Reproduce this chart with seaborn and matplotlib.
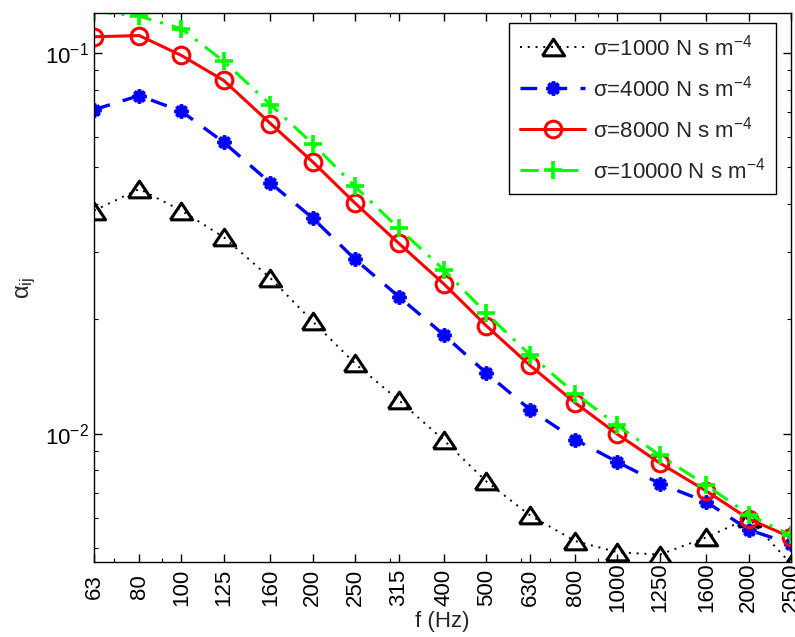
import numpy as np
import pandas as pd
import matplotlib
matplotlib.use("Agg")
import matplotlib.pyplot as plt
import matplotlib.ticker as mticker
import seaborn as sns

freqs = [63, 80, 100, 125, 160, 200, 250, 315, 400, 500, 630, 800, 1000, 1250, 1600, 2000, 2500]
tick_labels = [str(f) for f in freqs]

s1000 = [0.0385, 0.0439, 0.0385, 0.0328, 0.0256, 0.0197, 0.01528, 0.01224, 0.00960, 0.00749,
         0.00610, 0.00522, 0.00488, 0.00481, 0.00534, 0.00600, 0.00455]
s4000 = [0.0709, 0.0772, 0.0702, 0.0582, 0.0455, 0.0368, 0.0287, 0.0229, 0.01815, 0.01443,
         0.01156, 0.00964, 0.00842, 0.00739, 0.00661, 0.00559, 0.00513]
s8000 = [0.1102, 0.1110, 0.0984, 0.0846, 0.0652, 0.0517, 0.0403, 0.0316, 0.0247, 0.0192,
         0.0151, 0.01204, 0.00996, 0.00837, 0.00706, 0.00597, 0.00534]
s10000 = [0.1287, 0.1248, 0.1157, 0.0950, 0.0731, 0.0577, 0.0446, 0.0346, 0.0269, 0.0207,
          0.0161, 0.01274, 0.01051, 0.00877, 0.00731, 0.00613, 0.00540]

labels = [r"σ=1000 N s m$^{-4}$", r"σ=4000 N s m$^{-4}$",
          r"σ=8000 N s m$^{-4}$", r"σ=10000 N s m$^{-4}$"]

sns.set_style("ticks")
plt.rcParams["font.family"] = ["Liberation Sans", "DejaVu Sans"]
plt.rcParams["mathtext.fontset"] = "custom"
plt.rcParams["mathtext.rm"] = "Liberation Sans"
plt.rcParams["mathtext.it"] = "Liberation Sans:italic"
plt.rcParams["axes.unicode_minus"] = True

fig = plt.figure(figsize=(7.95, 6.37), dpi=100)
ax = fig.add_axes([94 / 795, 1 - 562 / 637, (791 - 94) / 795, (562 - 13.3) / 637])

tri = [(-1, -0.75), (1, -0.75), (0, 0.75), (-1, -0.75)]

styles = [
    dict(color="black", linestyle=(0, (1, 3)), linewidth=1.4, marker=tri, markersize=16,
         markerfacecolor="none", markeredgecolor="black", markeredgewidth=2.2),
    dict(color="#0000ff", linestyle=(0, (5, 4)), linewidth=2.4, marker=(8, 2, 0), markersize=10,
         markeredgecolor="#0000ff", markeredgewidth=2.6),
    dict(color="#ff0000", linestyle="-", linewidth=2.2, marker="o", markersize=12,
         markerfacecolor="none", markeredgecolor="#ff0000", markeredgewidth=2.2),
    dict(color="#00ff00", linestyle=(0, (6, 3, 1, 3)), linewidth=2.2, marker="+", markersize=13,
         markeredgecolor="#00ff00", markeredgewidth=2.6),
]

for vals, lab, st in zip([s1000, s4000, s8000, s10000], labels, styles):
    df = pd.DataFrame({"f": freqs, "a": vals})
    sns.lineplot(data=df, x="f", y="a", ax=ax, label=lab, estimator=None, sort=False, **st)

ax.set_xscale("log")
ax.set_yscale("log")
ax.set_xlim(63, 2500)
ax.set_ylim(0.0046, 0.127)

ax.xaxis.set_major_locator(mticker.FixedLocator(freqs))
ax.xaxis.set_major_formatter(mticker.FixedFormatter(tick_labels))
ax.xaxis.set_minor_locator(mticker.LogLocator(base=10, subs=np.arange(2, 10)))
ax.xaxis.set_minor_formatter(mticker.NullFormatter())
ax.yaxis.set_major_locator(mticker.LogLocator(base=10))
ax.yaxis.set_minor_locator(mticker.LogLocator(base=10, subs=np.arange(2, 10)))
ax.yaxis.set_minor_formatter(mticker.NullFormatter())

ax.tick_params(axis="both", which="both", direction="in", top=True, right=True,
               colors="black", labelsize=16)
ax.tick_params(which="major", length=6, width=1)
ax.tick_params(which="minor", length=3, width=0.8)
ax.tick_params(axis="x", which="major", pad=18)
ax.tick_params(axis="y", which="major", pad=4)

for lbl in ax.get_xticklabels():
    lbl.set_rotation(90)
    lbl.set_verticalalignment("center")

for sp in ax.spines.values():
    sp.set_visible(True)
    sp.set_color("black")
    sp.set_linewidth(1.0)

ax.set_xlabel("f (Hz)", fontsize=16, va="center")
ax.xaxis.set_label_coords(0.5, -(622 - 562) / 548.7)
ax.set_ylabel(r"α$_{\mathrm{ij}}$", fontsize=17)
ax.yaxis.set_label_coords(-(94 - 38) / 697, 0.5)

leg = ax.legend(loc="upper right", bbox_to_anchor=((776 - 94) / 697, 1 - (23 - 13.3) / 548.7),
                borderaxespad=0, fontsize=16, frameon=True, fancybox=False, framealpha=1,
                edgecolor="black", handlelength=2.9, handletextpad=0.35, labelspacing=0.68,
                borderpad=0.5, numpoints=1)
leg.get_frame().set_linewidth(1.0)

fig.savefig("out.png", dpi=100, facecolor="white")
